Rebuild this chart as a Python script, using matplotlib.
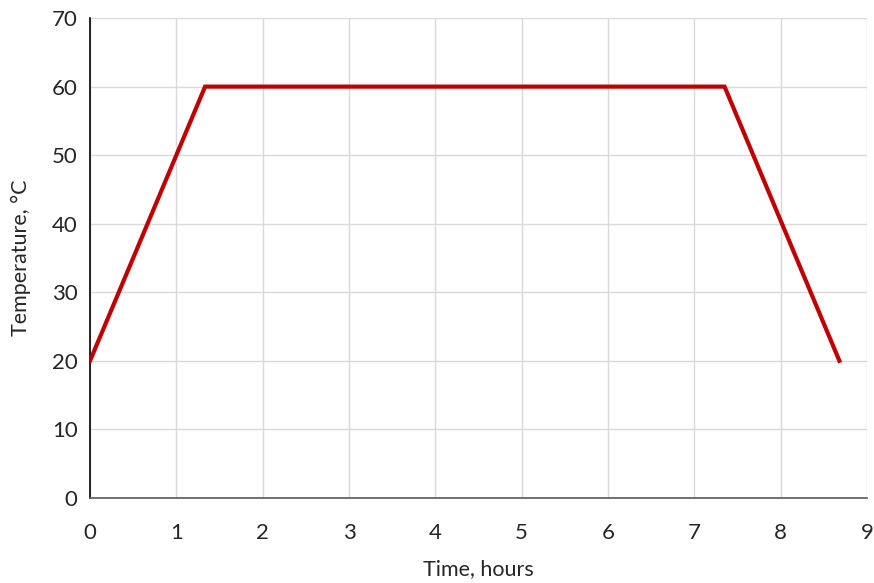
import matplotlib
matplotlib.use("Agg")
import matplotlib.pyplot as plt

time_hours = [0, 1.333, 7.35, 8.68]
temperature = [20, 60, 60, 20]
x_ticks = [0, 1, 2, 3, 4, 5, 6, 7, 8, 9]
y_ticks = [0, 10, 20, 30, 40, 50, 60, 70]

plt.rcParams['font.family'] = ['Lato', 'DejaVu Sans']

fig = plt.figure(figsize=(8.74, 5.83), dpi=100)
ax = fig.add_axes([0.103, 0.146, 0.889, 0.823])
ax.plot(time_hours, temperature, color='#C00000', linewidth=3, solid_joinstyle='miter', zorder=3)
ax.set_xlim(0, 9)
ax.set_ylim(0, 70)
ax.set_xticks(x_ticks)
ax.set_yticks(y_ticks)
ax.grid(True, color='#D9D9D9', linewidth=1)
ax.set_axisbelow(True)
for s in ['top', 'right']:
    ax.spines[s].set_visible(False)
ax.spines['left'].set_color('#000000')
ax.spines['bottom'].set_color('#595959')
ax.spines['left'].set_linewidth(1.2)
ax.spines['bottom'].set_linewidth(1.2)
ax.tick_params(axis='x', length=0, labelsize=16, colors='#262626', pad=18)
ax.tick_params(axis='y', length=0, labelsize=16, colors='#262626', pad=9)
ax.set_xlabel('Time, hours', fontsize=15.5, color='#262626', labelpad=12)
ax.set_ylabel('Temperature, °C', fontsize=15.5, color='#262626', labelpad=15)
fig.savefig('out.png', dpi=100)
